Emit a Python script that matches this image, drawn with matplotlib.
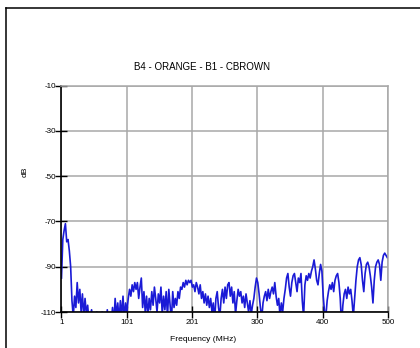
import numpy as np
import matplotlib
matplotlib.use("Agg")
import matplotlib.pyplot as plt
from matplotlib.lines import Line2D

plt.rcParams['font.family'] = ['Liberation Sans', 'DejaVu Sans']
plt.rcParams['axes.unicode_minus'] = False

title = 'B4 - ORANGE - B1 - CBROWN'
level_db = [
    -95, -78, -74, -71, -79, -78, -83, -90, -105, -112,
    -103, -108, -97, -106, -100, -110, -102, -112, -104, -111,
    -107, -114, -112, -109, -115, -112, -116, -110, -115, -113,
    -117, -110, -116, -114, -117, -109, -116, -113, -115, -108,
    -115, -104, -112, -106, -114, -105, -112, -103, -113, -106,
    -110, -104, -100, -103, -98, -101, -97, -100, -97, -104,
    -99, -95, -108, -101, -110, -103, -112, -104, -109, -101,
    -107, -99, -104, -110, -102, -106, -99, -111, -103, -109,
    -101, -112, -100, -107, -114, -101, -108, -104, -107, -101,
    -104, -99, -100, -97, -99, -96, -98, -96, -97, -96,
    -99, -98, -101, -97, -99, -102, -98, -104, -101, -106,
    -102, -107, -103, -108, -104, -110, -106, -114, -104, -101,
    -108, -112, -104, -100, -106, -99, -104, -98, -97, -103,
    -99, -106, -101, -111, -105, -100, -103, -101, -106, -103,
    -108, -102, -106, -110, -105, -111, -107, -104, -99, -95,
    -97, -102, -108, -113, -106, -103, -101, -105, -100, -104,
    -101, -99, -102, -97, -103, -107, -104, -112, -106, -110,
    -104, -100, -95, -93, -99, -103, -97, -94, -93, -97,
    -101, -95, -97, -93, -105, -112, -98, -94, -96, -93,
    -95, -92, -90, -87, -91, -96, -98, -93, -89, -92,
    -103, -110, -112, -105, -101, -98, -100, -97, -101, -96,
    -94, -93, -97, -104, -116, -107, -102, -100, -104, -99,
    -102, -100, -105, -112, -104, -96, -90, -87, -86, -89,
    -96, -101, -93, -89, -88, -90, -94, -99, -106, -96,
    -90, -88, -87, -89, -96, -88, -85, -84, -85, -86,
]
freq = np.arange(1, 2 * len(level_db), 2)
xtick_pos = np.linspace(1, 500, 6)
xtick_labels = ['1', '101', '201', '300', '400', '500']
ytick_vals = [-110, -90, -70, -50, -30, -10]

# %% plot
fig = plt.figure(figsize=(4.2, 3.48), dpi=100)
ax = fig.add_axes([0.1464, 0.1034, 0.7774, 0.6509])

ax.plot(freq, level_db, color='#1a1ad6', linewidth=1.2)

ax.set_xlim(1, 500)
ax.set_ylim(-110, -10)
ax.set_xticks(xtick_pos)
ax.set_xticklabels(xtick_labels)
ax.set_yticks(ytick_vals)
ax.tick_params(axis='both', direction='inout', length=8, width=1.0,
               labelsize=5.8, color='black')
ax.tick_params(axis='x', pad=1)
ax.tick_params(axis='y', pad=0)
ax.grid(color='#a8a8a8', linewidth=1.1)
ax.set_axisbelow(True)

for side in ['top', 'right']:
    ax.spines[side].set_color('#a8a8a8')
    ax.spines[side].set_linewidth(1.1)
for side in ['left', 'bottom']:
    ax.spines[side].set_color('black')
    ax.spines[side].set_linewidth(1.2)

# titles and labels
fig.text(0.481, 0.8075, title, ha='center', va='center', fontsize=7)
fig.text(0.483, 0.023, 'Frequency (MHz)', ha='center', va='center', fontsize=6.1)
fig.text(0.06, 0.506, 'dB', ha='center', va='center', rotation=90, fontsize=6.1)

# outer frame (top and left edges visible)
fig.add_artist(Line2D([6 / 420, 6 / 420], [0, 1 - 8 / 348], transform=fig.transFigure,
                      color='black', linewidth=1.1))
fig.add_artist(Line2D([6 / 420, 1], [1 - 8 / 348, 1 - 8 / 348], transform=fig.transFigure,
                      color='black', linewidth=1.1))

plt.savefig('out.png', dpi=100)
